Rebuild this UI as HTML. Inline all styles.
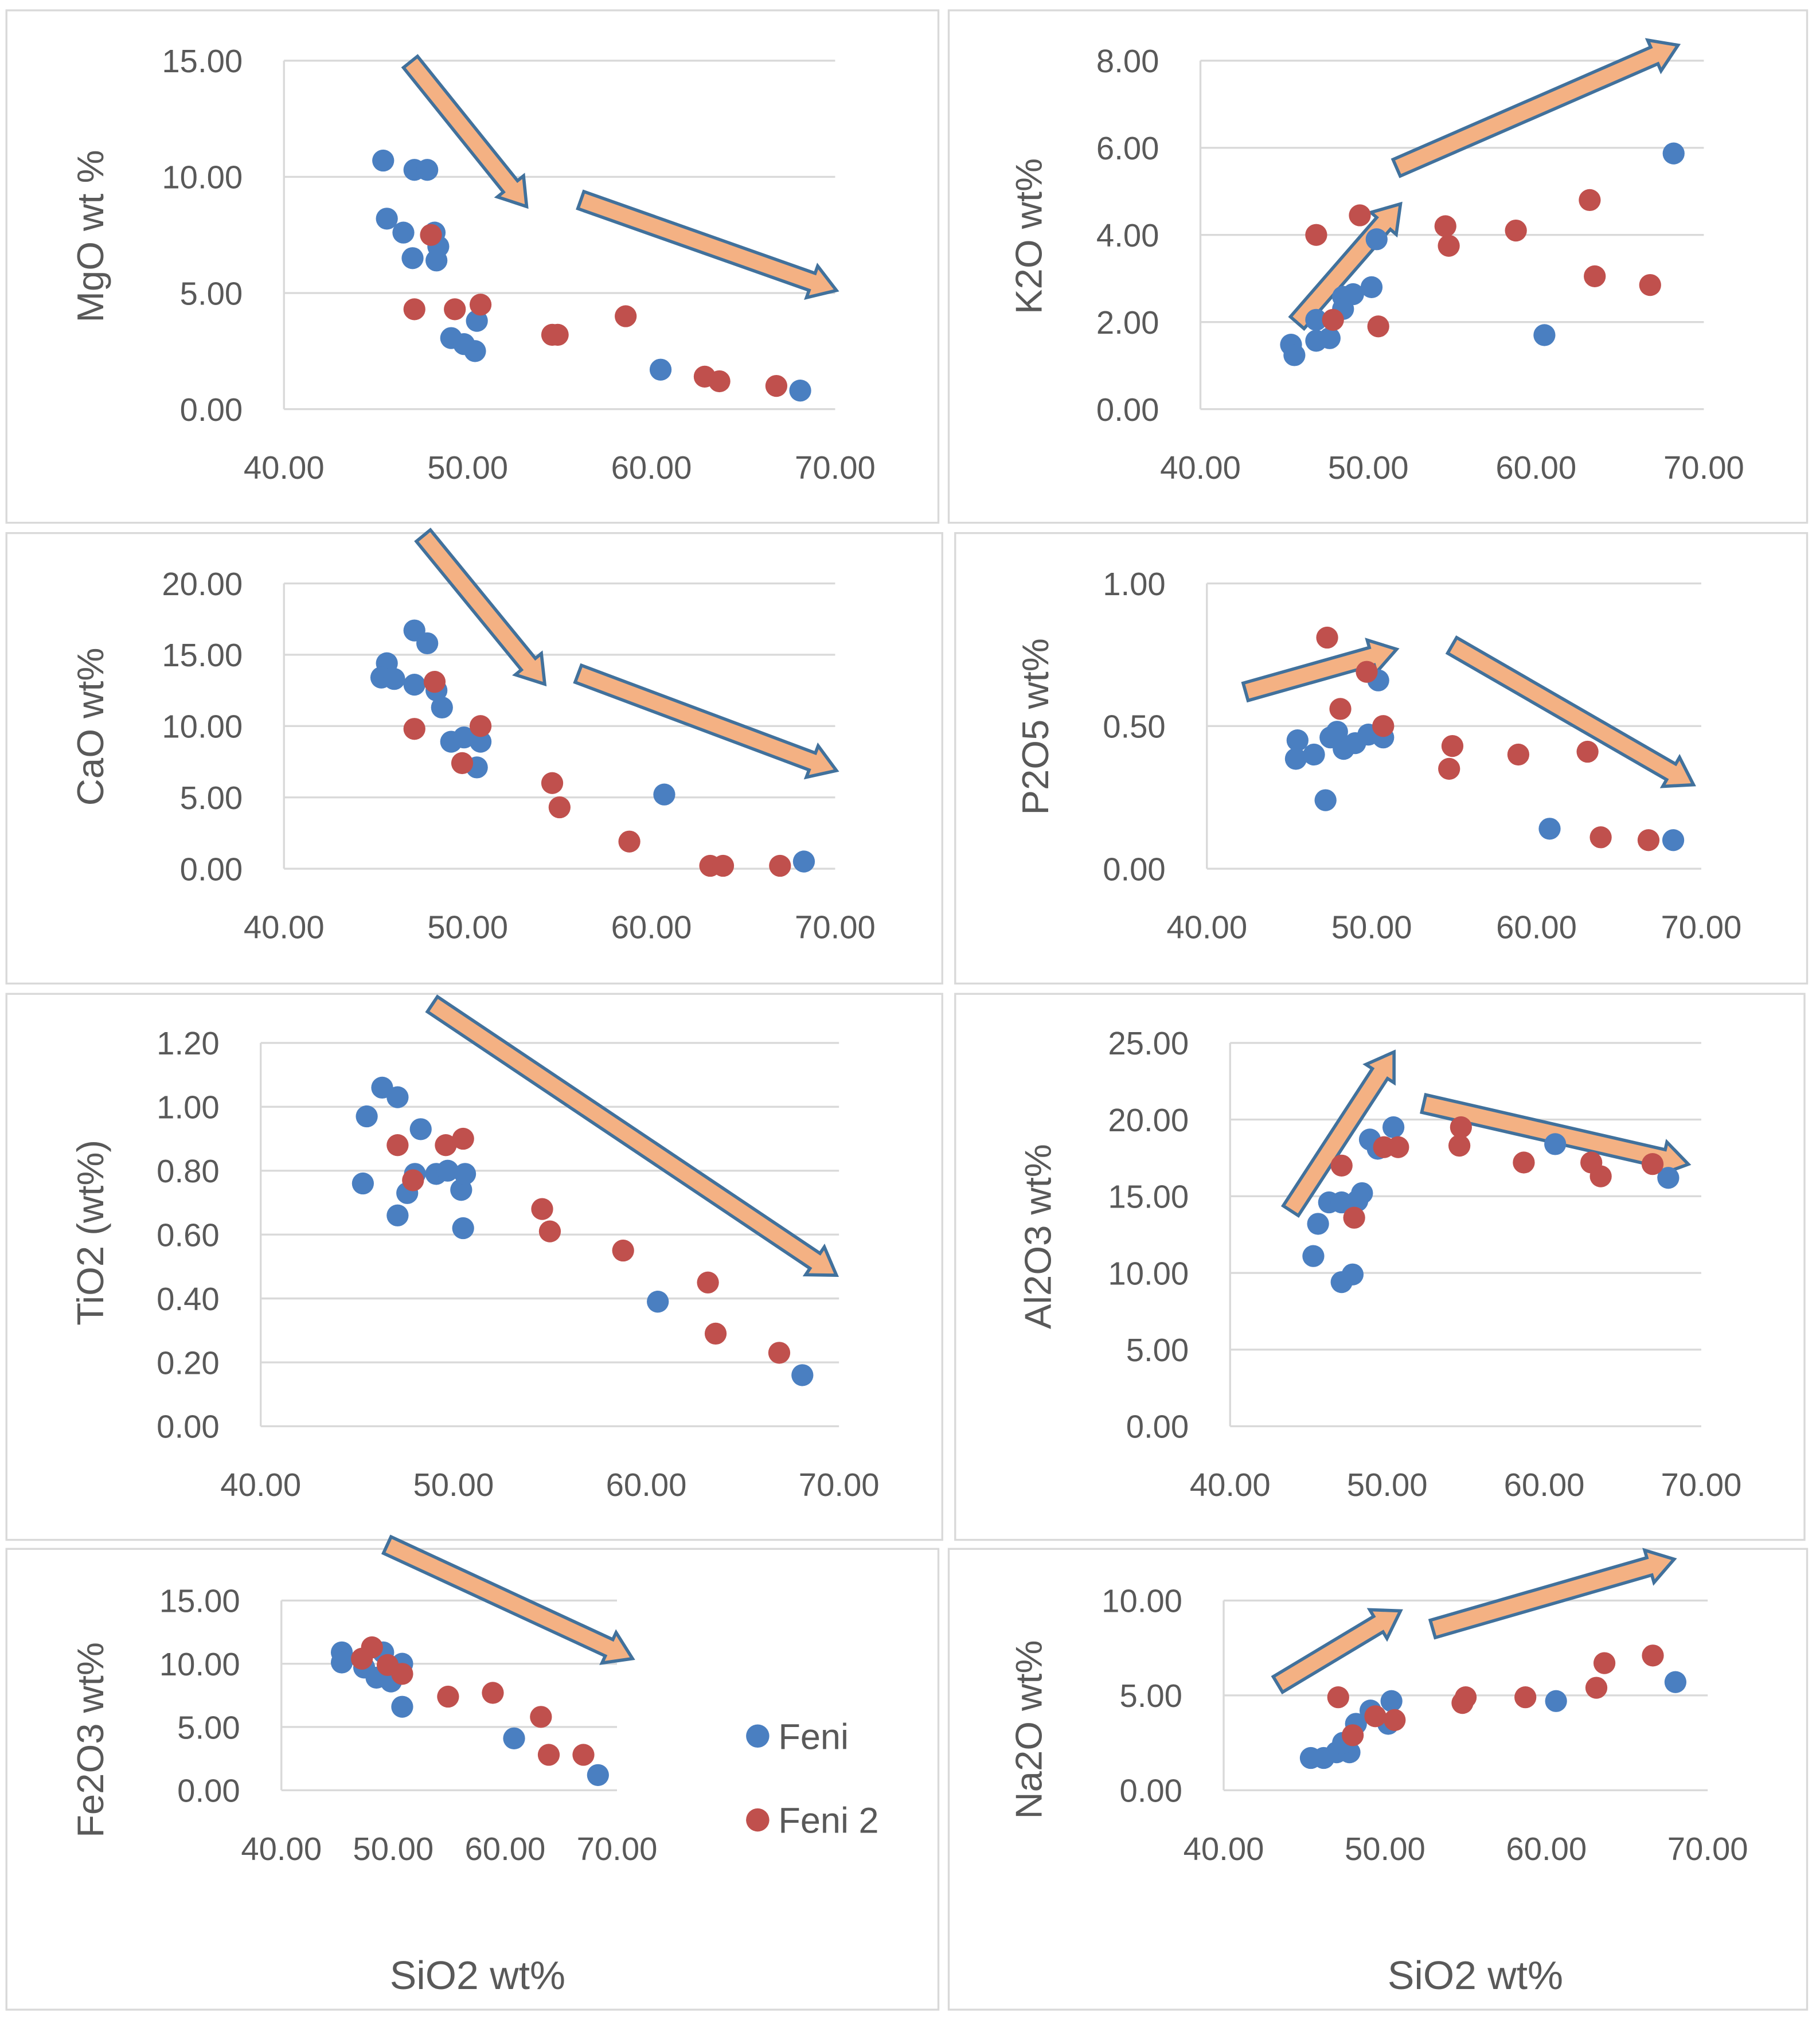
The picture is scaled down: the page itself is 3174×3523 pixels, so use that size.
<!DOCTYPE html>
<html><head><meta charset="utf-8"><style>
html,body{margin:0;padding:0;background:#fff;}
svg{display:block;}
text{font-family:"Liberation Sans",sans-serif;}
</style></head><body>
<svg id="fig" width="3174" height="3523" viewBox="0 0 1410 1565" preserveAspectRatio="none" xmlns="http://www.w3.org/2000/svg"></svg>
<script>
// ---- data (SiO2 wt% vs oxide wt%) ----
const mgoFeniX=[45.4,47.1,47.8,45.6,46.5,48.2,47.0,48.3,48.4,49.1,49.8,50.4,50.5,60.5,68.1];
const mgoFeniY=[10.7,10.3,10.3,8.2,7.6,7.6,6.5,6.4,7.0,3.06,2.8,2.5,3.8,1.7,0.8];
const mgoFeni2X=[48.0,47.1,49.3,50.7,54.6,54.9,58.6,62.9,63.7,66.8];
const mgoFeni2Y=[7.5,4.3,4.3,4.5,3.2,3.2,4.0,1.4,1.2,1.0];

const k2oFeniX=[45.4,45.6,46.9,47.7,46.9,48.5,49.1,50.2,50.5,48.5,60.5,68.2];
const k2oFeniY=[1.48,1.24,1.57,1.63,2.05,2.58,2.64,2.8,3.9,2.3,1.7,5.87];
const k2oFeni2X=[46.9,49.5,47.9,50.6,54.6,54.8,58.8,63.2,63.5,66.8];
const k2oFeni2Y=[4.0,4.45,2.05,1.9,4.2,3.75,4.1,4.8,3.05,2.85];

const caoFeniX=[45.6,45.3,47.1,47.8,46.0,47.1,48.3,48.6,49.1,49.8,50.7,50.5,60.7,68.3];
const caoFeniY=[14.4,13.4,16.7,15.8,13.3,12.9,12.5,11.3,8.9,9.2,8.9,7.1,5.2,0.5];
const caoFeni2X=[48.2,47.1,49.7,50.7,54.6,55.0,58.8,63.2,63.9,67.0];
const caoFeni2Y=[13.1,9.8,7.4,10.0,6.0,4.3,1.9,0.2,0.2,0.2];

const p2o5FeniX=[45.5,45.4,46.5,47.2,47.5,48.3,49.0,49.8,50.4,50.7,60.8,68.3,47.9];
const p2o5FeniY=[0.45,0.385,0.40,0.24,0.46,0.42,0.44,0.47,0.66,0.46,0.14,0.10,0.48];
const p2o5Feni2X=[47.3,49.7,48.1,50.7,54.9,54.7,58.9,63.1,63.9,66.8];
const p2o5Feni2Y=[0.81,0.69,0.56,0.50,0.43,0.35,0.40,0.41,0.11,0.10];

const tio2FeniX=[45.5,46.3,47.1,48.3,45.3,47.1,47.6,48.0,49.1,49.7,50.4,50.6,50.5,60.6,68.1];
const tio2FeniY=[0.97,1.06,1.03,0.93,0.76,0.66,0.73,0.79,0.79,0.80,0.74,0.79,0.62,0.39,0.16];
const tio2Feni2X=[47.1,47.9,49.6,50.5,54.6,55.0,58.8,63.2,63.6,66.9];
const tio2Feni2Y=[0.88,0.77,0.88,0.90,0.68,0.61,0.55,0.45,0.29,0.23];

const al2o3FeniX=[45.3,45.6,46.3,47.1,48.1,48.4,47.1,47.8,48.9,49.4,50.4,60.7,67.9];
const al2o3FeniY=[11.1,13.2,14.6,14.6,14.7,15.2,9.4,9.9,18.7,18.1,19.5,18.4,16.2];
const al2o3Feni2X=[47.1,47.9,49.8,50.7,54.7,54.6,58.7,63.0,63.6,66.9];
const al2o3Feni2Y=[17.0,13.6,18.2,18.2,19.5,18.3,17.2,17.2,16.3,17.1];

const fe2o3FeniX=[45.4,45.4,47.4,48.5,49.8,50.8,50.8,60.8,68.3,49.1];
const fe2o3FeniY=[10.9,10.1,9.7,8.9,8.6,10.0,6.6,4.1,1.2,10.9];
const fe2o3Feni2X=[48.1,47.2,49.5,50.8,54.9,58.9,63.2,63.9,67.0];
const fe2o3Feni2Y=[11.3,10.4,9.9,9.2,7.4,7.7,5.8,2.8,2.8];

const na2oFeniX=[45.4,46.2,47.0,47.8,47.4,48.2,49.1,50.4,50.2,60.6,68.0];
const na2oFeniY=[1.7,1.7,2.0,2.0,2.5,3.5,4.2,4.7,3.5,4.7,5.7];
const na2oFeni2X=[47.1,48.0,49.4,50.6,54.8,55.0,58.7,63.1,63.6,66.6];
const na2oFeni2Y=[4.9,2.9,3.9,3.7,4.6,4.9,4.9,5.4,6.7,7.1];

const xTicks=[40,50,60,70];
const mgoTicks=[0,5,10,15];
const k2oTicks=[0,2,4,6,8];
const caoTicks=[0,5,10,15,20];
const p2o5Ticks=[0,0.5,1];
const tio2Ticks=[0,0.2,0.4,0.6,0.8,1.0,1.2];
const al2o3Ticks=[0,5,10,15,20,25];
const fe2o3Ticks=[0,5,10,15];
const na2oTicks=[0,5,10];

const NS="http://www.w3.org/2000/svg";
const svg=document.getElementById('fig');
function mk(tag,attrs,parent){const e=document.createElementNS(NS,tag);for(const k in attrs)e.setAttribute(k,attrs[k]);(parent||svg).appendChild(e);return e;}

const BLUE="#4a7fc1", RED="#c0504d";

const panels=[
 {key:'mgo',box:[5,8,722,397],x0:220,x1:647,yb:317,yt:47,ymax:15,ticks:mgoTicks,title:'MgO  wt %',tx:78,ty:183,bx:mgoFeniX,by:mgoFeniY,rx:mgoFeni2X,ry:mgoFeni2Y,
  arrows:[[318,48,408,160],[450,155,648,225]]},
 {key:'k2o',box:[735,8,665,397],x0:930,x1:1320,yb:317,yt:47,ymax:8,ticks:k2oTicks,title:'K2O  wt%',tx:805,ty:183,bx:k2oFeniX,by:k2oFeniY,rx:k2oFeni2X,ry:k2oFeni2Y,
  arrows:[[1005,250,1085,158],[1082,130,1300,35]]},
 {key:'cao',box:[5,413,725,349],x0:220,x1:647,yb:673,yt:452,ymax:20,ticks:caoTicks,title:'CaO  wt%',tx:78,ty:563,bx:caoFeniX,by:caoFeniY,rx:caoFeni2X,ry:caoFeni2Y,
  arrows:[[328,415,422,530],[448,522,648,597]]},
 {key:'p2o5',box:[740,413,660,349],x0:935,x1:1318,yb:673,yt:452,ymax:1,ticks:p2o5Ticks,title:'P2O5  wt%',tx:810,ty:563,bx:p2o5FeniX,by:p2o5FeniY,rx:p2o5Feni2X,ry:p2o5Feni2Y,
  arrows:[[965,536,1082,503],[1125,500,1312,608]]},
 {key:'tio2',box:[5,770,725,423],x0:202,x1:650,yb:1105,yt:808,ymax:1.2,ticks:tio2Ticks,title:'TiO2 (wt%)',tx:78,ty:955,bx:tio2FeniX,by:tio2FeniY,rx:tio2Feni2X,ry:tio2Feni2Y,
  arrows:[[335,778,648,988]]},
 {key:'al2o3',box:[740,770,658,423],x0:953,x1:1318,yb:1105,yt:808,ymax:25,ticks:al2o3Ticks,title:'Al2O3  wt%',tx:812,ty:958,bx:al2o3FeniX,by:al2o3FeniY,rx:al2o3Feni2X,ry:al2o3Feni2Y,
  arrows:[[1000,938,1080,815],[1103,855,1308,902]]},
 {key:'fe2o3',box:[5,1200,722,357],x0:218,x1:478,yb:1387,yt:1240,ymax:15,ticks:fe2o3Ticks,title:'Fe2O3  wt%',tx:78,ty:1348,bx:fe2o3FeniX,by:fe2o3FeniY,rx:fe2o3Feni2X,ry:fe2o3Feni2Y,
  arrows:[[300,1197,490,1285]]},
 {key:'na2o',box:[735,1200,665,357],x0:948,x1:1323,yb:1387,yt:1240,ymax:10,ticks:na2oTicks,title:'Na2O  wt%',tx:805,ty:1340,bx:na2oFeniX,by:na2oFeniY,rx:na2oFeni2X,ry:na2oFeni2Y,
  arrows:[[990,1305,1085,1248],[1110,1262,1297,1208]]},
];

function arrow(g,x1,y1,x2,y2){
  const dx=x2-x1,dy=y2-y1,L=Math.hypot(dx,dy),ux=dx/L,uy=dy/L,nx=-uy,ny=ux;
  const sw=7,hw=13,hl=20;
  const bx=x2-ux*hl,by=y2-uy*hl;
  const pts=[[x1+nx*sw,y1+ny*sw],[bx+nx*sw,by+ny*sw],[bx+nx*hw,by+ny*hw],[x2,y2],[bx-nx*hw,by-ny*hw],[bx-nx*sw,by-ny*sw],[x1-nx*sw,y1-ny*sw]];
  const p=mk('polygon',{points:pts.map(q=>q.join(',')).join(' '),fill:'#f4b183',stroke:'#41719c','stroke-width':2.5,'stroke-linejoin':'miter'},g);
  
  
}

panels.forEach(P=>{
  const g=mk('g',{});
  
  
  const fr=mk('rect',{x:P.box[0],y:P.box[1],width:P.box[2],height:P.box[3],fill:'#fff',stroke:'#d9d9d9','stroke-width':1.5},g);
  
  
  const sx=v=>P.x0+(v-40)/30*(P.x1-P.x0);
  const sy=v=>P.yb-v/P.ymax*(P.yb-P.yt);
  P.ticks.forEach(t=>{
    const y=sy(t);
    const ln=mk('line',{x1:P.x0,x2:P.x1,y1:y,y2:y,stroke:'#d9d9d9','stroke-width':1.5},g);
    
    
    const tx=mk('text',{x:P.x0-32,y:y+9,'text-anchor':'end','font-size':25,fill:'#595959'},g);
    tx.textContent=t.toFixed(2);
    
    
  });
  const ya=mk('line',{x1:P.x0,x2:P.x0,y1:P.yt,y2:P.yb,stroke:'#d9d9d9','stroke-width':1.5},g);
  
  
  xTicks.forEach(t=>{
    const tx=mk('text',{x:sx(t),y:P.yb+54,'text-anchor':'middle','font-size':25,fill:'#595959'},g);
    tx.textContent=t.toFixed(2);
    
    
  });
  const tt=mk('text',{x:P.tx,y:P.ty+2,'text-anchor':'middle','font-size':29,fill:'#595959',transform:`rotate(-90 ${P.tx} ${P.ty})`},g);
  tt.textContent=P.title;
  
  
  P.arrows.forEach(a=>arrow(g,...a));
  P.bx.forEach((v,i)=>{
    const c=mk('circle',{cx:sx(v),cy:sy(P.by[i]),r:8.5,fill:BLUE},g);
    
    
  });
  P.rx.forEach((v,i)=>{
    const c=mk('circle',{cx:sx(v),cy:sy(P.ry[i]),r:8.5,fill:RED},g);
    
    
  });
});

// legend & x titles
const lg=mk('g',{});


[[BLUE,'Feni',1345],[RED,'Feni 2',1410]].forEach(([c,t,y])=>{
  const d=mk('circle',{cx:587,cy:y,r:9,fill:c},lg);
  
  
  const tx=mk('text',{x:603,y:y+10,'font-size':28,fill:'#595959'},lg);
  tx.textContent=t;
  
  
});
[[370,'left'],[1143,'right']].forEach(([x,s])=>{
  const tx=mk('text',{x:x,y:1541,'text-anchor':'middle','font-size':31,fill:'#595959'});
  tx.textContent='SiO2  wt%';
  
  
});
</script>
</body></html>
